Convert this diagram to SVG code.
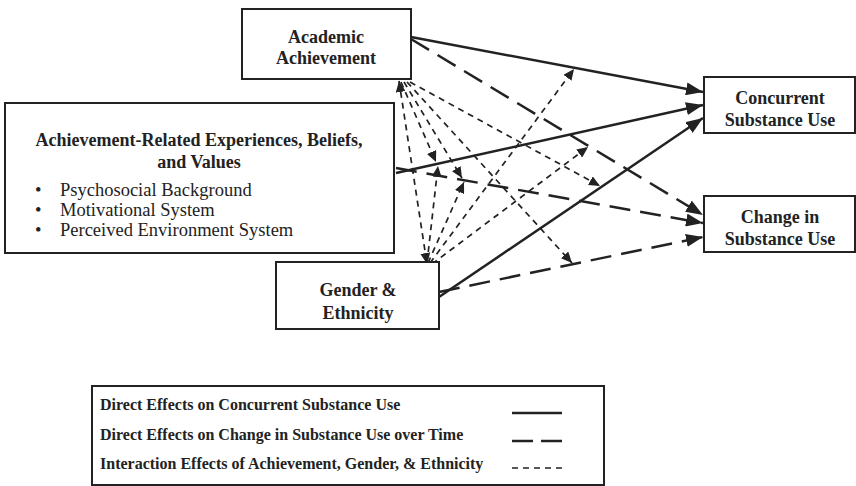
<svg xmlns="http://www.w3.org/2000/svg" width="856" height="486" viewBox="0 0 856 486">
<style>
.box{fill:#fff;stroke:#222;stroke-width:2}
.t{font-family:"Liberation Serif","Times New Roman",serif;font-weight:bold;font-size:18px;fill:#222;text-anchor:middle}
.r{font-family:"Liberation Serif","Times New Roman",serif;font-size:18.5px;fill:#222}
.lg{font-family:"Liberation Serif","Times New Roman",serif;font-weight:bold;font-size:16px;fill:#222}
.solid{fill:none;stroke:#222;stroke-width:2.5}
.long{fill:none;stroke:#222;stroke-width:2.5;stroke-dasharray:21 10}
.short{fill:none;stroke:#222;stroke-width:1.7;stroke-dasharray:6 5}
</style>
<defs>
<marker id="big" markerUnits="userSpaceOnUse" markerWidth="18" markerHeight="13" refX="17" refY="6.5" orient="auto">
<path d="M0,0 L17,6.5 L0,13 Z" fill="#222" stroke="none"/>
</marker>
<marker id="sm" markerUnits="userSpaceOnUse" markerWidth="12" markerHeight="10" refX="11" refY="5" orient="auto-start-reverse">
<path d="M0,0 L11,5 L0,10 Z" fill="#222" stroke="none"/>
</marker>
</defs>
<g id="connectors">
<line class="solid" x1="411" y1="37" x2="703" y2="92" marker-end="url(#big)"/>
<line class="solid" x1="396" y1="173" x2="703" y2="105" marker-end="url(#big)"/>
<line class="solid" x1="439" y1="297" x2="703" y2="118" marker-end="url(#big)"/>
<line class="long" x1="411" y1="39" x2="703" y2="215" marker-end="url(#big)"/>
<line class="long" x1="396" y1="168" x2="703" y2="223" marker-end="url(#big)"/>
<line class="long" x1="439" y1="292" x2="703" y2="237" marker-end="url(#big)"/>
<line class="short" x1="399" y1="81" x2="427" y2="264" marker-start="url(#sm)" marker-end="url(#sm)"/>
<line class="short" x1="401" y1="82" x2="436" y2="162" marker-end="url(#sm)"/>
<line class="short" x1="404" y1="82" x2="462" y2="178" marker-end="url(#sm)"/>
<line class="short" x1="407" y1="82" x2="572" y2="263" marker-end="url(#sm)"/>
<line class="short" x1="410" y1="82" x2="600" y2="186" marker-end="url(#sm)"/>
<line class="short" x1="427" y1="263" x2="438" y2="166" marker-end="url(#sm)"/>
<line class="short" x1="428" y1="263" x2="464" y2="182" marker-end="url(#sm)"/>
<line class="short" x1="430" y1="263" x2="574" y2="69" marker-end="url(#sm)"/>
<line class="short" x1="432" y1="264" x2="588" y2="147" marker-end="url(#sm)"/>
</g>
<g id="academic">
<rect class="box" x="242" y="9" width="169" height="70"/>
<text class="t" x="326" y="43">Academic</text>
<text class="t" x="326" y="64">Achievement</text>
</g>
<g id="experiences">
<rect class="box" x="5" y="103" width="389" height="150"/>
<text class="t" x="199" y="146">Achievement-Related Experiences, Beliefs,</text>
<text class="t" x="199" y="168">and Values</text>
<text class="r" x="35" y="196">•</text>
<text class="r" x="60" y="196">Psychosocial Background</text>
<text class="r" x="35" y="216">•</text>
<text class="r" x="60" y="216">Motivational System</text>
<text class="r" x="35" y="236">•</text>
<text class="r" x="60" y="236">Perceived Environment System</text>
</g>
<g id="gender">
<rect class="box" x="276" y="262" width="163" height="67"/>
<text class="t" x="358" y="296">Gender &amp;</text>
<text class="t" x="358" y="319">Ethnicity</text>
</g>
<g id="concurrent">
<rect class="box" x="704" y="77" width="151" height="56"/>
<text class="t" x="780" y="104">Concurrent</text>
<text class="t" x="780" y="126">Substance Use</text>
</g>
<g id="change">
<rect class="box" x="704" y="196" width="151" height="56"/>
<text class="t" x="780" y="223">Change in</text>
<text class="t" x="780" y="245">Substance Use</text>
</g>
<g id="legend">
<rect class="box" x="92" y="386" width="512" height="99"/>
<text class="lg" x="100" y="410">Direct Effects on Concurrent Substance Use</text>
<text class="lg" x="100" y="440">Direct Effects on Change in Substance Use over Time</text>
<text class="lg" x="100" y="469">Interaction Effects of Achievement, Gender, &amp; Ethnicity</text>
<line x1="512" y1="413" x2="562" y2="413" stroke="#222" stroke-width="2.5"/>
<line x1="512" y1="441" x2="562" y2="441" stroke="#222" stroke-width="2.5" stroke-dasharray="21 8"/>
<line x1="512" y1="468" x2="562" y2="468" stroke="#222" stroke-width="1.7" stroke-dasharray="6 5"/>
</g>
</svg>
